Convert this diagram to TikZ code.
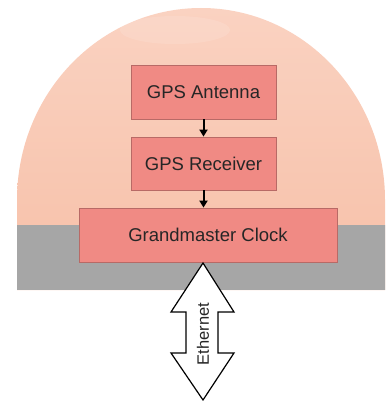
\documentclass[tikz,border=0pt]{standalone}
\usepackage{fontspec}
\setmainfont{Liberation Sans}
\usetikzlibrary{arrows.meta}
\definecolor{domepeach}{HTML}{F7C0A8}
\definecolor{domelight}{HTML}{FAD2C1}
\definecolor{boxfill}{HTML}{F08A84}
\definecolor{boxline}{HTML}{B86A66}
\definecolor{bandgrey}{HTML}{A6A6A6}
\tikzset{
  blockbox/.style={draw=boxline, line width=0.8pt, fill=boxfill, inner sep=0pt,
    font=\fontsize{18.5}{22}\selectfont, text=black!85},
  flowarrow/.style={line width=2pt, -{Triangle[length=7pt,width=8pt]}},
}
\begin{document}
\begin{tikzpicture}[x=1pt,y=-1pt]
\useasboundingbox (0,0) rectangle (387,401);
% dome
\path[top color=domelight, bottom color=domepeach]
  (17,290) -- (17,200) arc[start angle=180, end angle=0, x radius=184, y radius=-192] -- (385,290) -- cycle;
\begin{scope}
  \clip (17,290) -- (17,200) arc[start angle=180, end angle=0, x radius=184, y radius=-192] -- (385,290) -- cycle;
  \fill[white, opacity=0.12] (175,30) ellipse[x radius=55, y radius=14];
  \fill[bandgrey] (0,225) rectangle (387,290);
\end{scope}
% boxes
\node[blockbox, minimum width=145pt, minimum height=54pt] (ant) at (203.5,92) {GPS Antenna};
\node[blockbox, minimum width=145pt, minimum height=53pt] (rec) at (203.5,163.5) {GPS Receiver};
\node[blockbox, minimum width=258pt, minimum height=54pt] (gm) at (208,235) {Grandmaster Clock};
\draw[flowarrow] (ant.south) -- (rec.north);
\draw[flowarrow] (rec.south) -- (rec.south |- gm.north);
% ethernet double arrow
\coordinate (ethtop) at (203,263);
\draw[line width=1.2pt, fill=white, line join=miter]
  (ethtop) -- (234,312) -- (218,312) -- (218,353) -- (234,353) -- (203,400)
  -- (171,353) -- (186,353) -- (186,312) -- (171,312) -- cycle;
\node[rotate=90, font=\fontsize{16.5}{19}\selectfont, text=black!85] (eth) at (203,334) {Ethernet};
\end{tikzpicture}
\end{document}
